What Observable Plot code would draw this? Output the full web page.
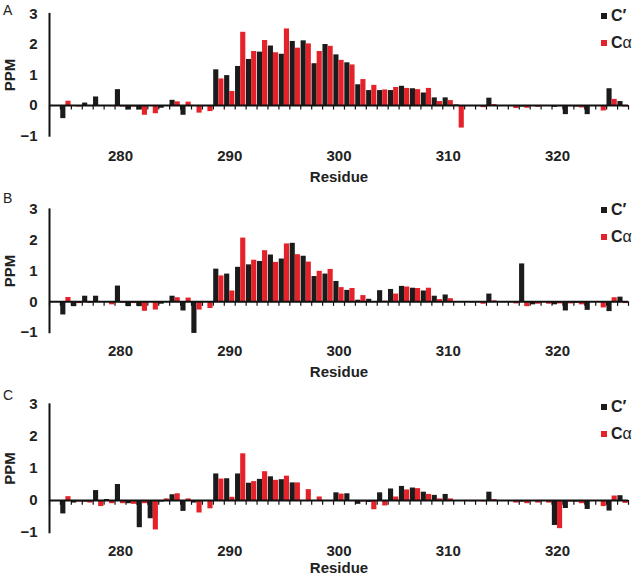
<!DOCTYPE html>
<html>
<head>
<meta charset="utf-8">
<script src="https://cdn.jsdelivr.net/npm/d3@7"></script>
<script src="https://cdn.jsdelivr.net/npm/@observablehq/plot@0.6"></script>
<style>
  body { margin: 0; background: #fff; font-family: "Liberation Sans", Arial, sans-serif; }
  #chart { position: relative; width: 638px; height: 575px; background: #fff; overflow: hidden; }
  .panel { position: absolute; left: 0; }
  .letter { position: absolute; left: 3px; font-size: 14px; line-height: 14px; color: #222; }
  .leg { position: absolute; left: 601px; height: 18px; display: flex; align-items: center; font-size: 16px; color: #222; }
  .sq { display: inline-block; width: 6px; height: 6px; margin-right: 4px; }
  .leg b { font-weight: bold; }
</style>
</head>
<body>
<div id="chart"></div>
<script>
// ---- data ----
const residues = [275,276,277,278,279,280,281,282,283,284,285,286,287,288,289,290,291,292,293,294,295,296,297,298,299,300,301,302,303,304,305,306,307,308,309,310,311,312,313,314,315,316,317,318,319,320,321,322,323,324,325,326];
const seriesNames = ["C\u2032", "C\u03b1"];
const panelLabels = ["A", "B", "C"];
const xTicks = [280, 290, 300, 310, 320];
const yTicks = [-1, 0, 1, 2, 3];

const aCp = [-0.43,0,0.08,0.28,0,0.52,-0.15,-0.15,-0.03,-0.09,0.17,-0.32,0,0,1.17,0.98,1.28,1.51,1.75,1.95,1.68,2.1,2.12,1.37,2.0,1.66,1.4,0.68,0.49,0.49,0.49,0.63,0.55,0.41,0.25,0.25,0.02,0,0,0.24,0,0,-0.05,0,0,-0.06,-0.3,-0.05,-0.3,0,0.55,0.13];
const aCa = [0.14,-0.05,0,0,-0.04,-0.05,-0.05,-0.32,-0.27,-0.03,0.12,0.11,-0.25,-0.2,0.87,0.46,2.4,1.77,2.13,1.73,2.51,1.88,2.02,1.77,1.94,1.48,1.33,0.85,0.66,0.51,0.59,0.56,0.52,0.56,0.13,0.16,-0.74,-0.03,-0.07,0.03,0,-0.1,-0.09,-0.06,0,-0.04,-0.04,-0.08,0,-0.18,0.2,-0.05];

const bCp = [-0.43,-0.16,0.18,0.18,0,0.51,-0.16,-0.16,-0.02,-0.08,0.18,-0.3,-1.03,0,1.06,0.9,1.12,1.2,1.31,1.52,1.39,1.9,1.48,0.82,0.9,0.66,0.37,0.05,0.08,0.36,0.4,0.5,0.44,0.35,0.18,0.22,0,0,-0.03,0.25,0,-0.03,1.23,-0.1,0,-0.1,-0.3,-0.05,-0.28,0,-0.32,0.15];
const bCa = [0.14,-0.06,-0.05,0,-0.1,-0.05,-0.06,-0.31,-0.27,-0.02,0.13,0.12,-0.27,-0.22,0.84,0.35,2.07,1.35,1.66,1.28,1.88,1.53,1.29,0.99,1.05,0.46,0.43,0.2,0,0.02,0.25,0.48,0.43,0.44,0.07,0.1,-0.03,-0.04,-0.08,0.03,-0.03,-0.07,-0.16,-0.08,-0.08,-0.07,-0.07,-0.1,0,-0.2,0.13,-0.06];

const cCp = [-0.42,-0.08,-0.05,0.31,0.03,0.5,-0.1,-0.85,-0.57,-0.05,0.18,-0.34,-0.08,0,0.83,0.68,0.83,0.54,0.66,0.74,0.65,0.55,0,0,0,0.24,0.21,-0.12,-0.06,0.24,0.36,0.44,0.39,0.26,0.16,0.19,0,0,-0.03,0.26,0,-0.03,-0.05,-0.03,0,-0.78,-0.25,-0.05,-0.28,0,-0.33,0.15];
const cCa = [0.12,-0.05,-0.08,-0.19,-0.1,-0.1,-0.12,-0.1,-0.92,0.05,0.21,0.05,-0.39,-0.26,0.67,0.1,1.46,0.59,0.9,0.63,0.76,0.55,0.34,0.11,0,0.2,0,-0.05,-0.29,-0.17,0.11,0.33,0.37,0.19,0.05,0.05,0,-0.04,-0.04,0.03,0,-0.08,-0.1,-0.08,-0.08,-0.88,-0.05,-0.1,0,-0.19,0.14,-0.09];

// ---- layout / style ----
const xDomain = [273.5, 326.5];
const yDomain = [-1, 3];
const BLACK = "#1b1b1b";
const RED = "#e5222a";
const FONT = "'Liberation Sans', Arial, sans-serif";

const panels = [
  {cp: aCp, ca: aCa, top: 0,   h: 190, mt: 13.5, mb: 54.5, tp: 14,   rd: 41.5, letterY: 10,  leg: [16, 42.5]},
  {cp: bCp, ca: bCa, top: 190, h: 190, mt: 19,   mb: 48,   tp: 12.5, rd: 40,   letterY: 198, leg: [210, 237]},
  {cp: cCp, ca: cCa, top: 380, h: 195, mt: 24,   mb: 43,   tp: 12.5, rd: 36,   letterY: 395, leg: [407, 434]}
];

const chart = document.getElementById("chart");
const bounds = d3.range(xDomain[0], xDomain[1] + 0.001, 1);
const yFmt = d => d < 0 ? "\u2212" + Math.abs(d) : String(d);

panels.forEach((p, k) => {
  const data = residues.map((r, i) => ({r, cp: p.cp[i], ca: p.ca[i]}));
  const svg = Plot.plot({
    width: 638,
    height: p.h,
    marginLeft: 49,
    marginRight: 10,
    marginTop: p.mt,
    marginBottom: p.mb,
    x: {domain: xDomain},
    y: {domain: yDomain},
    style: {fontFamily: FONT, fontSize: "15px", fontWeight: "bold", color: "#222", background: "transparent"},
    marks: [
      Plot.axisX({ticks: xTicks, tickSize: 0, tickPadding: p.tp, label: null, tickFormat: d => String(d)}),
      Plot.axisY({ticks: yTicks, tickSize: 0, tickPadding: 12, label: null, tickFormat: yFmt}),
      Plot.rect(data, {x1: d => d.r - 0.47, x2: d => d.r, y1: () => 0, y2: "cp", fill: BLACK}),
      Plot.rect(data, {x1: d => d.r, x2: d => d.r + 0.47, y1: () => 0, y2: "ca", fill: RED}),
      Plot.ruleY([0], {stroke: "#111", strokeWidth: 1.8}),
      Plot.ruleX(bounds, {x: d => d, y1: () => 0, y2: () => -0.15, stroke: "#111", strokeWidth: 1.2}),
      Plot.ruleX([xDomain[0]], {y1: () => yDomain[0] - 0.04, y2: () => yDomain[1] + 0.02, stroke: "#111", strokeWidth: 2}),
      Plot.text(["PPM"], {text: d => d, frameAnchor: "left", rotate: -90, dx: -39, textAnchor: "middle", lineAnchor: "middle", fill: "#222"}),
      Plot.text(["Residue"], {text: d => d, frameAnchor: "bottom", dy: p.rd, lineAnchor: "middle", textAnchor: "middle", fill: "#222"})
    ]
  });
  const wrap = document.createElement("div");
  wrap.className = "panel";
  wrap.style.top = p.top + "px";
  wrap.appendChild(svg);
  chart.appendChild(wrap);

  const letter = document.createElement("div");
  letter.className = "letter";
  letter.textContent = panelLabels[k];
  letter.style.top = (p.letterY - 7) + "px";
  chart.appendChild(letter);

  [BLACK, RED].forEach((c, j) => {
    const lg = document.createElement("div");
    lg.className = "leg";
    lg.style.top = (p.leg[j] - 9) + "px";
    const sq = document.createElement("span");
    sq.className = "sq";
    sq.style.background = c;
    lg.appendChild(sq);
    const t = document.createElement("span");
    if (j === 0) {
      t.innerHTML = "<b>C\u2032</b>";
    } else {
      t.innerHTML = "<b>C</b>\u03b1";
    }
    lg.appendChild(t);
    chart.appendChild(lg);
  });
});
</script>
</body>
</html>
